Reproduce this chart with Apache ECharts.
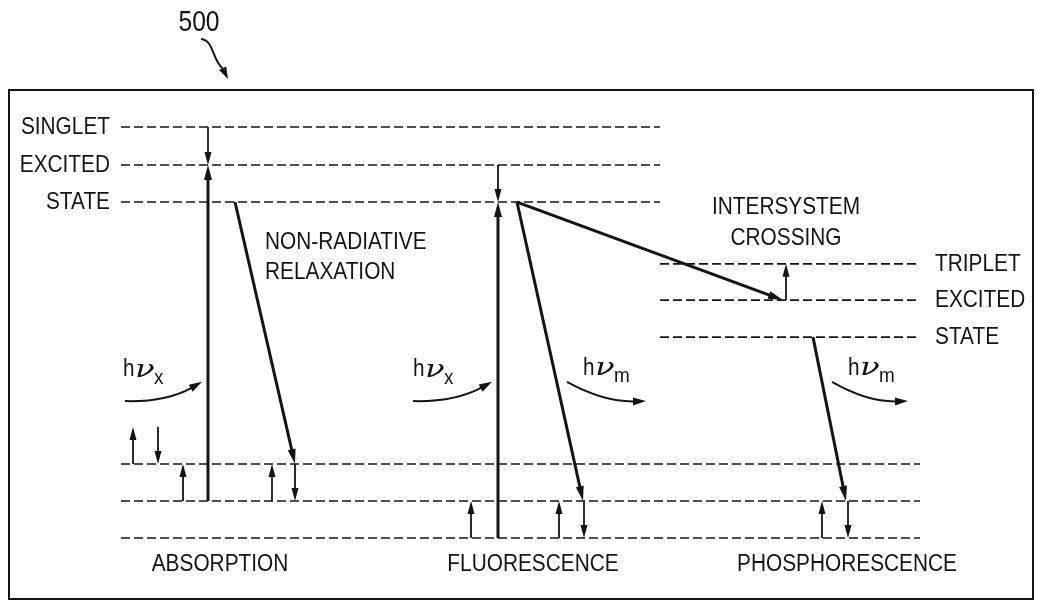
<!DOCTYPE html>
<html><head><meta charset="utf-8">
<script src="https://cdn.jsdelivr.net/npm/echarts@6/dist/echarts.min.js"></script>
<style>html,body{margin:0;padding:0;background:#fff}#chart{width:1037px;height:603px}</style>
</head><body><div id="chart"></div>
<script>
// ---- Energy levels (energy units; lowest ground vibrational level = 0) ----
const groundLevels  = [0, 1, 2];
const tripletLevels = [5.43, 6.43, 7.41];
const singletLevels = [9.08, 10.08, 11.11];
// horizontal extent of each family of levels (diagram x units)
const groundSpan  = [121, 920];
const tripletSpan = [660, 920];
const singletSpan = [121, 660];

const singletLabels = ['STATE', 'EXCITED', 'SINGLET'];   // same order as singletLevels
const tripletLabels = ['STATE', 'EXCITED', 'TRIPLET'];   // same order as tripletLevels

const processNames  = ['ABSORPTION', 'FLUORESCENCE', 'PHOSPHORESCENCE'];
const processX      = [220, 533, 847];
const processLabelE = -0.70;

const noteLines   = ['NON-RADIATIVE', 'RELAXATION', 'INTERSYSTEM', 'CROSSING'];
const noteAnchors = [[265, 8.00], [265, 7.19], [786, 8.95], [786, 8.11]];
const noteAlign   = ['left', 'left', 'center', 'center'];

// ---- Transitions: [x1, E1, x2, E2] ----
const majorTransitions = [
  [208, 1, 208, 10.08],      // absorption
  [235, 9.08, 295, 2],       // non-radiative relaxation
  [498, 0, 498, 9.08],       // fluorescence excitation
  [517, 9.08, 583, 1],       // fluorescence emission
  [517, 9.08, 783, 6.43],    // intersystem crossing
  [813, 5.43, 846, 1]        // phosphorescence emission
];
const minorTransitions = [
  [208, 11.11, 208, 10.08],
  [498, 10.08, 498, 9.08],
  [133, 2, 133, 3],
  [158, 3, 158, 2],
  [183, 1, 183, 2],
  [272, 1, 272, 2],
  [295, 2, 295, 1],
  [471, 0, 471, 1],
  [559, 0, 559, 1],
  [584, 1, 584, 0],
  [786, 6.43, 786, 7.41],
  [822, 0, 822, 1],
  [848, 1, 848, 0]
];
// photons (curved arrows): [x1, E1, x2, E2]
const photonArrows = [
  [125, 3.70, 202, 4.22],
  [413, 3.70, 492, 4.22],
  [567, 4.22, 646, 3.70],
  [832, 4.22, 908, 3.70]
];
const photonLabelPos = [[123, 4.54], [413, 4.54], [583, 4.59], [848, 4.59]];
const photonSub      = ['x', 'x', 'm', 'm'];

// ---- drawing ----
const INK = '#141414';
const FONT = '"Liberation Sans", Arial, sans-serif';
const SQUEEZE = 0.85;   // the reference lettering is a condensed sans
const chart = echarts.init(document.getElementById('chart'));

function levelSeries(levels, span) {
  return levels.map(E => ({
    type: 'line', silent: true, symbol: 'none', animation: false,
    data: [[span[0], E], [span[1], E]],
    lineStyle: { color: INK, width: 1.6, type: [9, 4] }
  }));
}

function arrowRender(lineWidth, headLen, headWid) {
  return function (params, api) {
    const p1 = api.coord([api.value(0), api.value(1)]);
    const p2 = api.coord([api.value(2), api.value(3)]);
    const dx = p2[0] - p1[0], dy = p2[1] - p1[1];
    const len = Math.hypot(dx, dy);
    const ux = dx / len, uy = dy / len;
    const bx = p2[0] - ux * headLen, by = p2[1] - uy * headLen;
    const nx = -uy * headWid / 2, ny = ux * headWid / 2;
    return { type: 'group', children: [
      { type: 'line', shape: { x1: p1[0], y1: p1[1], x2: bx + ux * 2, y2: by + uy * 2 },
        style: { stroke: INK, lineWidth: lineWidth, fill: null } },
      { type: 'polygon', shape: { points: [[p2[0], p2[1]], [bx + nx, by + ny], [bx - nx, by - ny]] },
        style: { fill: INK } }
    ]};
  };
}

function photonRender(params, api) {
  const p1 = api.coord([api.value(0), api.value(1)]);
  const p2 = api.coord([api.value(2), api.value(3)]);
  const dx = p2[0] - p1[0], dy = p2[1] - p1[1];
  const len = Math.hypot(dx, dy);
  let nx = -dy / len, ny = dx / len;
  if (ny < 0) { nx = -nx; ny = -ny; }
  const bend = 11;
  const cp = [(p1[0] + p2[0]) / 2 + nx * bend, (p1[1] + p2[1]) / 2 + ny * bend];
  const ex = p2[0] - cp[0], ey = p2[1] - cp[1];
  const el = Math.hypot(ex, ey);
  const ux = ex / el, uy = ey / el;
  const headLen = 13, headWid = 8;
  const bx = p2[0] - ux * headLen, by = p2[1] - uy * headLen;
  const px = -uy * headWid / 2, py = ux * headWid / 2;
  return { type: 'group', children: [
    { type: 'bezierCurve', shape: { x1: p1[0], y1: p1[1], cpx1: cp[0], cpy1: cp[1], x2: bx + ux * 2, y2: by + uy * 2 },
      style: { stroke: INK, lineWidth: 2, fill: null } },
    { type: 'polygon', shape: { points: [[p2[0], p2[1]], [bx + px, by + py], [bx - px, by - py]] },
      style: { fill: INK } }
  ]};
}

const textItems = [];
singletLevels.forEach((E, i) => textItems.push({ pos: [singletSpan[0] - 11, E], text: singletLabels[i], align: 'right' }));
tripletLevels.forEach((E, i) => textItems.push({ pos: [tripletSpan[1] + 15, E], text: tripletLabels[i], align: 'left' }));
processNames.forEach((t, i) => textItems.push({ pos: [processX[i], processLabelE], text: t, align: 'center' }));
noteLines.forEach((t, i) => textItems.push({ pos: noteAnchors[i], text: t, align: noteAlign[i] }));

function textRender(params, api) {
  const it = textItems[params.dataIndex];
  const p = api.coord([api.value(0), api.value(1)]);
  return { type: 'text', x: p[0], y: p[1], scaleX: SQUEEZE,
    style: { text: it.text, fill: INK, fontSize: 24.5, fontFamily: FONT,
      align: it.align, verticalAlign: 'middle' } };
}

function photonLabelRender(params, api) {
  const p = api.coord([api.value(0), api.value(1)]);
  const sub = photonSub[params.dataIndex];
  return { type: 'group', children: [
    { type: 'text', x: p[0], y: p[1], scaleX: 0.9, style: { text: 'h', fill: INK, fontSize: 23, fontFamily: FONT, align: 'left', verticalAlign: 'middle' } },
    { type: 'text', x: p[0] + 12, y: p[1] + 1, scaleX: 1.35, style: { text: 'ν', fill: INK, fontSize: 24, fontStyle: 'italic', fontFamily: '"DejaVu Serif", serif', align: 'left', verticalAlign: 'middle' } },
    { type: 'text', x: p[0] + 31, y: p[1] + 8, scaleX: 0.9, style: { text: sub, fill: INK, fontSize: 21, fontFamily: FONT, align: 'left', verticalAlign: 'middle' } }
  ]};
}

const series = [].concat(
  levelSeries(singletLevels, singletSpan),
  levelSeries(tripletLevels, tripletSpan),
  levelSeries(groundLevels, groundSpan),
  [
    { type: 'custom', silent: true, animation: false, renderItem: arrowRender(3, 15, 8), data: majorTransitions },
    { type: 'custom', silent: true, animation: false, renderItem: arrowRender(1.8, 13, 7), data: minorTransitions },
    { type: 'custom', silent: true, animation: false, renderItem: photonRender, data: photonArrows },
    { type: 'custom', silent: true, animation: false, renderItem: textRender, data: textItems.map(d => d.pos) },
    { type: 'custom', silent: true, animation: false, renderItem: photonLabelRender, data: photonLabelPos }
  ]
);

chart.setOption({
  animation: false,
  backgroundColor: '#fff',
  grid: { left: 0, right: 0, top: 0, bottom: 0 },
  xAxis: { type: 'value', min: 0, max: 1037, show: false },
  yAxis: { type: 'value', min: -65 / 37, max: 538 / 37, show: false },
  graphic: [
    { type: 'rect', shape: { x: 9, y: 90, width: 1024, height: 509 }, style: { fill: null, stroke: INK, lineWidth: 2 } },
    { type: 'text', x: 199, y: 23, scaleX: SQUEEZE, style: { text: '500', fill: INK, fontSize: 29, fontFamily: FONT, align: 'center', verticalAlign: 'middle' } },
    { type: 'bezierCurve', shape: { x1: 201, y1: 39, cpx1: 214, cpy1: 40, cpx2: 212, cpy2: 60, x2: 222.6, y2: 68.3 }, style: { stroke: INK, lineWidth: 2, fill: null } },
    { type: 'polygon', shape: { points: [[228, 79], [219, 70.1], [226.2, 66.5]] }, style: { fill: INK } }
  ],
  series: series
});
</script>
</body></html>
